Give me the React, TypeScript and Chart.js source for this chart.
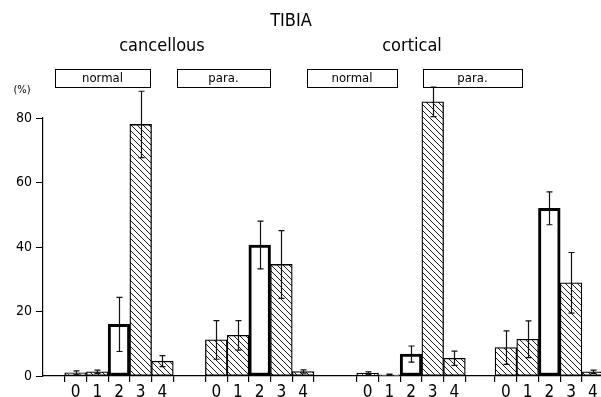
import React, { useEffect, useRef } from 'react';
import { Chart, registerables } from 'chart.js';

Chart.register(...registerables);

// ---- data ----
const grades = ['0', '1', '2', '3', '4'];
const tissues = ['cancellous', 'cortical'];
const conditions = ['normal', 'para.', 'normal', 'para.'];

const cancellousNormal = [1.0, 1.3, 16.0, 78.0, 4.6];
const cancellousNormalSD = [0.6, 0.5, 8.4, 10.3, 1.7];
const cancellousPara = [11.2, 12.6, 40.6, 34.6, 1.4];
const cancellousParaSD = [6.0, 4.6, 7.4, 10.5, 0.5];
const corticalNormal = [0.9, 0.4, 6.8, 85.0, 5.5];
const corticalNormalSD = [0.4, 0.2, 2.5, 4.6, 2.2];
const corticalPara = [8.8, 11.4, 52.0, 28.9, 1.3];
const corticalParaSD = [5.2, 5.7, 5.1, 9.4, 0.5];

const yTicks = [0, 20, 40, 60, 80];

// ---- layout (group start positions on the x scale, in bar widths) ----
const groupOffsets = [1.0, 7.48, 14.45, 20.82];
const X_MAX = 25.7;
const PLOT_LEFT = 43;
const PLOT_RIGHT = 601;

const FONT = '"DejaVu Sans Condensed", "DejaVu Sans", sans-serif';

export default function App() {
  const ref = useRef<HTMLCanvasElement | null>(null);

  useEffect(() => {
    const canvas = ref.current;
    if (!canvas) return;

    const groups = [cancellousNormal, cancellousPara, corticalNormal, corticalPara];
    const sdGroups = [cancellousNormalSD, cancellousParaSD, corticalNormalSD, corticalParaSD];

    const points: { x: number; y: number }[] = [];
    const sds: number[] = [];
    const centers: number[] = [];
    const bounds: number[] = [];
    groups.forEach((vals, g) => {
      vals.forEach((v, i) => {
        const cx = groupOffsets[g] + i + 0.5;
        points.push({ x: cx, y: v });
        sds.push(sdGroups[g][i]);
        centers.push(cx);
      });
      for (let i = 0; i <= vals.length; i++) bounds.push(groupOffsets[g] + i);
    });
    const centerLabel = new Map<number, string>();
    centers.forEach((c, i) => centerLabel.set(Math.round(c * 1000), grades[i % 5]));
    const allTicks = [...centers, ...bounds].filter((v) => v <= X_MAX).sort((a, b) => a - b);
    const unitPx = (PLOT_RIGHT - PLOT_LEFT) / X_MAX;

    // hatch pattern
    const pc = document.createElement('canvas');
    const S = 6;
    pc.width = S;
    pc.height = S;
    const pctx = pc.getContext('2d')!;
    pctx.fillStyle = '#ffffff';
    pctx.fillRect(0, 0, S, S);
    pctx.strokeStyle = '#1a1a1a';
    pctx.lineWidth = 1;
    pctx.beginPath();
    pctx.moveTo(0, 0);
    pctx.lineTo(S, S);
    pctx.moveTo(-S / 2, S / 2);
    pctx.lineTo(S / 2, S * 1.5);
    pctx.moveTo(S / 2, -S / 2);
    pctx.lineTo(S * 1.5, S / 2);
    pctx.stroke();
    const pattern = canvas.getContext('2d')!.createPattern(pc, 'repeat')!;

    const errorBars = {
      id: 'errorBars',
      afterDatasetsDraw(chart: any) {
        const ctx = chart.ctx;
        const meta = chart.getDatasetMeta(0);
        const y = chart.scales.y;
        ctx.save();
        ctx.strokeStyle = '#111';
        ctx.lineWidth = 1.2;
        meta.data.forEach((el: any, i: number) => {
          const v = points[i].y;
          const sd = sds[i];
          const x = Math.round(el.x) + 0.5;
          const t = y.getPixelForValue(v + sd);
          const b = y.getPixelForValue(Math.max(0, v - sd));
          ctx.beginPath();
          ctx.moveTo(x, t);
          ctx.lineTo(x, b);
          ctx.moveTo(x - 3, t);
          ctx.lineTo(x + 3, t);
          ctx.moveTo(x - 3, b);
          ctx.lineTo(x + 3, b);
          ctx.stroke();
        });
        ctx.restore();
      },
    };

    const labels = {
      id: 'labels',
      afterDraw(chart: any) {
        const ctx = chart.ctx;
        ctx.save();
        ctx.fillStyle = '#000';
        ctx.strokeStyle = '#000';
        ctx.textAlign = 'center';
        ctx.textBaseline = 'middle';
        ctx.font = `18px ${FONT}`;
        ctx.fillText('TIBIA', 291, 21);
        ctx.font = `18px ${FONT}`;
        ctx.fillText(tissues[0], 162, 46);
        ctx.fillText(tissues[1], 412, 46);
        const boxes = [
          [55, 69, 95, 18],
          [177, 69, 93, 18],
          [307, 69, 90, 18],
          [423, 69, 99, 18],
        ];
        ctx.lineWidth = 1;
        ctx.font = `13px ${FONT}`;
        boxes.forEach((bx, i) => {
          ctx.strokeRect(bx[0] + 0.5, bx[1] + 0.5, bx[2], bx[3]);
          ctx.fillText(conditions[i], bx[0] + bx[2] / 2, bx[1] + bx[3] / 2 + 1);
        });
        ctx.font = `11px ${FONT}`;
        ctx.fillText('(%)', 22, 90);
        ctx.restore();
      },
    };

    const chart = new Chart(canvas, {
      type: 'bar',
      data: {
        datasets: [
          {
            data: points as any,
            backgroundColor: (c: any) => (c.dataIndex % 5 === 2 ? '#ffffff' : pattern),
            borderColor: '#000',
            borderWidth: (c: any) => (c.dataIndex % 5 === 2 ? 3 : 1.3),
            borderSkipped: false,
            barThickness: unitPx,
            clip: false as any,
          },
        ],
      },
      options: {
        animation: false,
        responsive: false,
        devicePixelRatio: 1,
        layout: { padding: { top: 118, left: 0, right: 0, bottom: 0 } },
        plugins: { legend: { display: false }, tooltip: { enabled: false }, title: { display: false } },
        scales: {
          x: {
            type: 'linear',
            offset: false,
            min: 0,
            max: X_MAX,
            afterBuildTicks: (axis: any) => {
              axis.ticks = allTicks.map((v) => ({ value: v }));
            },
            afterFit: (axis: any) => {
              axis.height = 21;
              axis.paddingLeft = 0;
              axis.paddingRight = 0;
            },
            border: { display: true, color: '#000', width: 1.2 },
            grid: {
              offset: false,
              drawOnChartArea: false,
              drawTicks: true,
              tickLength: 6,
              lineWidth: 1.2,
              color: (c: any) =>
                c.tick && centerLabel.has(Math.round(c.tick.value * 1000)) ? 'rgba(0,0,0,0)' : '#000',
            },
            ticks: {
              autoSkip: false,
              maxRotation: 0,
              padding: 0,
              color: '#000',
              font: { size: 17, family: FONT },
              callback: (v: any) => centerLabel.get(Math.round(Number(v) * 1000)) ?? '',
            },
          },
          y: {
            min: 0,
            max: 80,
            afterBuildTicks: (axis: any) => {
              axis.ticks = yTicks.map((v) => ({ value: v }));
            },
            afterFit: (axis: any) => {
              axis.width = PLOT_LEFT;
            },
            border: { display: true, color: '#000', width: 1.2 },
            grid: { drawOnChartArea: false, drawTicks: true, tickLength: 7, color: '#000', lineWidth: 1 },
            ticks: { padding: 4, color: '#000', font: { size: 14, family: FONT } },
          },
        },
      },
      plugins: [errorBars, labels],
    });

    return () => chart.destroy();
  }, []);

  return (
    <div style={{ position: 'fixed', left: 0, top: 0, width: 601, height: 397, background: '#fff' }}>
      <canvas ref={ref} width={601} height={397} style={{ display: 'block', width: 601, height: 397 }} />
    </div>
  );
}
